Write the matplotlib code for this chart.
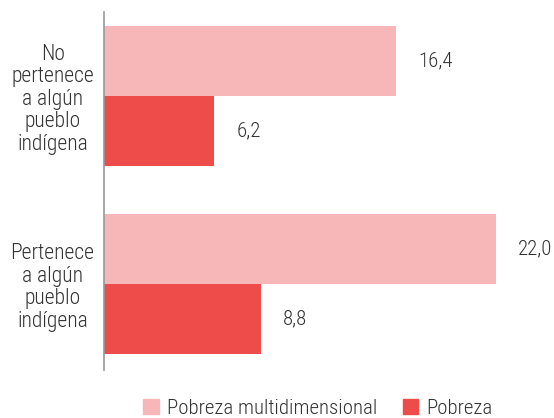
import matplotlib.pyplot as plt
from matplotlib.patches import Patch

categorias = ["No\npertenece\na algún\npueblo\nindígena", "Pertenece\na algún\npueblo\nindígena"]
multidimensional = [16.4, 22.0]
pobreza = [6.2, 8.8]
etiquetas_multi = ["16,4", "22,0"]
etiquetas_pobreza = ["6,2", "8,8"]

color_multi = "#F7B7B8"
color_pobreza = "#EE4B4B"
color_texto = "#333333"

plt.rcParams['font.family'] = ['Roboto Condensed', 'DejaVu Sans']
plt.rcParams['font.weight'] = 'light'

fig = plt.figure(figsize=(5.54, 4.18), dpi=100)
ax = fig.add_axes([104 / 554, 1 - 370 / 418, 445 / 554, 358 / 418])

h = 0.372
pos = list(range(len(categorias)))
ax.barh([p - h / 2 for p in pos], multidimensional, height=h, color=color_multi)
ax.barh([p + h / 2 for p in pos], pobreza, height=h, color=color_pobreza)

for p, v, t in zip(pos, multidimensional, etiquetas_multi):
    ax.annotate(t, (v, p - h / 2), xytext=(16, 0), textcoords="offset points",
                va="center", ha="left", fontsize=15, color=color_texto)
for p, v, t in zip(pos, pobreza, etiquetas_pobreza):
    ax.annotate(t, (v, p + h / 2), xytext=(16, 0), textcoords="offset points",
                va="center", ha="left", fontsize=15, color=color_texto)

ax.set_xlim(0, 25)
ax.set_ylim(1.457, -0.447)
ax.set_yticks(pos)
ax.set_yticklabels(categorias, fontsize=15.5, color=color_texto, ha="center",
                   linespacing=1.1)
ax.tick_params(axis="y", length=0, pad=37)
ax.set_xticks([])
for s in ["top", "right", "bottom"]:
    ax.spines[s].set_visible(False)
ax.spines["left"].set_color("#999999")
ax.spines["left"].set_linewidth(1.2)

handles = [Patch(color=color_multi, label="Pobreza multidimensional"),
           Patch(color=color_pobreza, label="Pobreza")]
fig.legend(handles=handles, loc="center", bbox_to_anchor=(318 / 554, 1 - 408 / 418),
           ncol=2, frameon=False, fontsize=15, handlelength=0.75, handleheight=0.75,
           handletextpad=0.4, columnspacing=1.2, labelcolor=color_texto,
           borderpad=0, borderaxespad=0)

fig.savefig("out.png", dpi=100)
